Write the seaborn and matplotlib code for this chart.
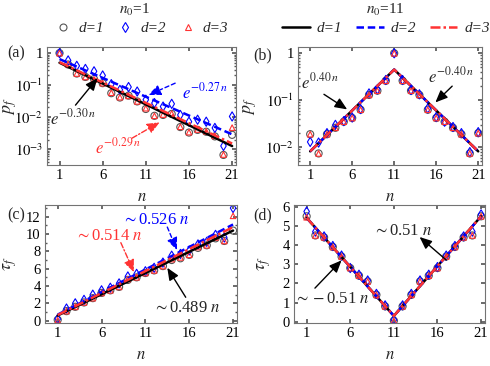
import numpy as np
import pandas as pd
import matplotlib
matplotlib.use("Agg")
import matplotlib.pyplot as plt
import seaborn as sns
from matplotlib.lines import Line2D
from matplotlib.ticker import FixedLocator, FuncFormatter, MultipleLocator, NullFormatter

n = list(range(1, 22))

# (a) n0 = 1, first-passage probability
pa_d1 = [1.0, 0.44, 0.23, 0.18, 0.155, 0.115, 0.056, 0.041, 0.047, 0.031, 0.018,
         0.011, 0.0117, 0.0126, 0.0049, 0.0033, 0.004, 0.0035, 0.0025, 0.00066, 0.0028]
pa_d2 = [1.0, 0.59, 0.40, 0.32, 0.27, 0.20, 0.107, 0.071, 0.087, 0.063, 0.035,
         0.0275, 0.0214, 0.026, 0.0117, 0.0072, 0.0083, 0.0072, 0.0046, 0.00126, 0.0105]
pa_d3 = [1.0, 0.45, 0.23, 0.18, 0.15, 0.115, 0.058, 0.042, 0.046, 0.031, 0.019,
         0.011, 0.012, 0.013, 0.005, 0.0034, 0.0041, 0.0036, 0.0026, 0.00068, 0.0047]
fit_a_n = [1, 21]
fit_a_d1 = [0.50, 0.00125]
fit_a_d2 = [0.65, 0.0029]
fit_a_d3 = [0.52, 0.0015]

# (b) n0 = 11
pb_d1 = [0.019, 0.0074, 0.019, 0.026, 0.035, 0.042, 0.063, 0.13, 0.16, 0.26, 1.0,
         0.26, 0.16, 0.13, 0.063, 0.042, 0.035, 0.026, 0.019, 0.0074, 0.02]
pb_d2 = [0.013, 0.0126, 0.02, 0.03, 0.036, 0.043, 0.065, 0.14, 0.17, 0.27, 1.0,
         0.27, 0.165, 0.134, 0.067, 0.044, 0.035, 0.027, 0.02, 0.0079, 0.021]
pb_d3 = [0.019, 0.0074, 0.019, 0.026, 0.035, 0.042, 0.063, 0.13, 0.16, 0.26, 1.0,
         0.26, 0.16, 0.13, 0.063, 0.042, 0.035, 0.026, 0.019, 0.0074, 0.02]
fit_b_n = [1, 11, 21]
fit_b = [0.0082, 0.45, 0.0082]

# (c) n0 = 1, mean first-passage time
tc_d1 = [0.1, 1.1, 1.6, 2.1, 2.6, 3.2, 3.5, 3.9, 4.7, 5.0, 5.5,
         5.8, 6.3, 7.0, 7.2, 7.6, 8.4, 8.7, 9.5, 9.2, 10.4]
tc_d2 = [0.2, 1.4, 2.0, 2.4, 3.0, 3.5, 3.8, 4.3, 5.1, 5.4, 5.7,
         6.1, 6.7, 7.5, 7.7, 8.1, 8.8, 9.1, 9.9, 9.6, 13.0]
tc_d3 = [0.05, 1.1, 1.6, 2.1, 2.6, 3.2, 3.5, 3.9, 4.8, 5.0, 5.5,
         5.8, 6.3, 7.1, 7.3, 7.6, 8.5, 8.7, 9.6, 9.2, 12.1]
fit_c_n = [1, 21]
fit_c_d1 = [0.6, 10.4]
fit_c_d2 = [0.7, 11.1]
fit_c_d3 = [0.65, 10.8]

# (d) n0 = 11
td_d1 = [5.5, 4.5, 4.4, 3.9, 3.4, 2.8, 2.4, 2.1, 1.4, 0.8, 0.05,
         0.8, 1.4, 2.1, 2.4, 2.8, 3.4, 3.9, 4.4, 4.5, 5.5]
td_d2 = [5.75, 4.7, 4.45, 3.95, 3.45, 2.8, 2.45, 2.15, 1.45, 0.85, 0.1,
         0.85, 1.45, 2.15, 2.45, 2.85, 3.45, 3.95, 4.45, 4.7, 5.6]
td_d3 = [5.45, 4.5, 4.4, 3.9, 3.4, 2.8, 2.4, 2.1, 1.4, 0.8, 0.05,
         0.8, 1.4, 2.1, 2.4, 2.8, 3.4, 3.9, 4.4, 4.5, 5.5]
fit_d_n = [1, 11, 21]
fit_d = [5.42, 0.3, 5.5]

sns.set_theme(style="ticks")
plt.rcParams.update({
    "font.family": ["Liberation Serif", "DejaVu Serif"],
    "mathtext.fontset": "stix",
    "font.size": 10.5,
    "xtick.direction": "in", "ytick.direction": "in",
    "xtick.top": True, "ytick.right": True,
    "xtick.major.size": 3, "ytick.major.size": 3,
    "xtick.minor.size": 1.5, "ytick.minor.size": 1.5,
    "xtick.color": "0.35", "ytick.color": "0.35",
    "xtick.labelcolor": "black", "ytick.labelcolor": "black",
    "axes.edgecolor": "0.45", "axes.linewidth": 0.8,
})

GRAY, BLUE, RED = "#555555", "#0000ff", "#ff3333"
W, H = 490, 366
fig = plt.figure(figsize=(4.9, 3.66), dpi=100)


def box(l, r, t, b):
    return [l / W, 1 - b / H, (r - l) / W, (b - t) / H]


ax_a = fig.add_axes(box(47, 236, 47, 165))
ax_b = fig.add_axes(box(298, 482, 47, 165))
ax_c = fig.add_axes(box(45, 237, 205, 323))
ax_d = fig.add_axes(box(294, 485, 205, 323))


def markers(ax, d1, d2, d3):
    df = pd.DataFrame({"n": n, "d1": d1, "d2": d2, "d3": d3})
    sns.scatterplot(data=df, x="n", y="d1", ax=ax, marker="o", s=26,
                    facecolors="none", edgecolor=GRAY, linewidth=0.8, zorder=2)
    sns.scatterplot(data=df, x="n", y="d2", ax=ax, marker="d", s=22,
                    facecolors="none", edgecolor=BLUE, linewidth=0.8, zorder=2)
    sns.scatterplot(data=df, x="n", y="d3", ax=ax, marker="^", s=16,
                    facecolors="none", edgecolor=RED, linewidth=0.8, zorder=2)


def fits(ax, xs, y1, y2, y3):
    sns.lineplot(x=xs, y=y1, ax=ax, color="black", lw=1.8, zorder=3)
    sns.lineplot(x=xs, y=y2, ax=ax, color=BLUE, lw=1.8, linestyle=(0, (3, 1.5)), zorder=4)
    sns.lineplot(x=xs, y=y3, ax=ax, color=RED, lw=1.8, linestyle=(0, (4, 1.2, 1, 1.2)), zorder=5)


markers(ax_a, pa_d1, pa_d2, pa_d3)
fits(ax_a, fit_a_n, fit_a_d1, fit_a_d2, fit_a_d3)
markers(ax_b, pb_d1, pb_d2, pb_d3)
fits(ax_b, fit_b_n, fit_b, fit_b, fit_b)
markers(ax_c, tc_d1, tc_d2, tc_d3)
fits(ax_c, fit_c_n, fit_c_d1, fit_c_d2, fit_c_d3)
markers(ax_d, td_d1, td_d2, td_d3)
fits(ax_d, fit_d_n, fit_d, fit_d, fit_d)


def pow_label(v, pos):
    k = int(round(np.log10(v)))
    return "1" if k == 0 else r"$10^{%d}$" % k


for ax in (ax_a, ax_b):
    ax.set_yscale("log")
    ax.yaxis.set_major_formatter(FuncFormatter(pow_label))
    ax.yaxis.set_minor_formatter(NullFormatter())
    ax.set_ylabel(r"$p_f$", fontsize=13)
ax_a.set_ylim(3.2e-4, 1.55)
ax_a.yaxis.set_major_locator(FixedLocator([1e-3, 1e-2, 1e-1, 1]))
ax_b.set_ylim(4.2e-3, 1.36)
ax_b.yaxis.set_major_locator(FixedLocator([1e-2, 1e-1, 1]))

ax_c.set_ylim(-0.27, 13.35)
ax_c.yaxis.set_major_locator(MultipleLocator(2))
ax_c.yaxis.set_minor_locator(MultipleLocator(1))
ax_d.set_ylim(-0.07, 6.09)
ax_d.yaxis.set_major_locator(MultipleLocator(1))
for ax in (ax_c, ax_d):
    ax.set_ylabel(r"$\tau_f$", fontsize=13)

ax_a.yaxis.set_label_coords(-0.15, 0.5)
ax_b.yaxis.set_label_coords(-0.21, 0.5)
ax_c.yaxis.set_label_coords(-0.135, 0.5)
ax_d.yaxis.set_label_coords(-0.11, 0.5)

for ax in (ax_a, ax_b, ax_c, ax_d):
    ax.set_xlim(-0.45, 21.45)
    ax.xaxis.set_major_locator(FixedLocator([1, 6, 11, 16, 21]))
    ax.set_xlabel(r"$n$", fontsize=12, labelpad=5)
    ax.tick_params(labelsize=10.5, pad=3)
    for s in ax.spines.values():
        s.set_zorder(6)


def arrow(ax, tail, head, color, ls="-"):
    ax.annotate("", xy=head, xytext=tail,
                arrowprops=dict(arrowstyle="-|>,head_length=0.7,head_width=0.3",
                                color=color, lw=1.0, linestyle=ls,
                                shrinkA=0, shrinkB=0), zorder=7)


FS = 12
# (a) annotations
ax_a.text(2.6, 0.0093, r"$e^{-0.30\,n}$", ha="center", va="center", fontsize=FS)
arrow(ax_a, (2.85, 0.0237), (5.4, 0.165), "black")
ax_a.text(17.9, 0.06, r"$e^{-0.27\,n}$", ha="center", va="center", fontsize=FS, color=BLUE)
arrow(ax_a, (14.4, 0.115), (11.3, 0.049), BLUE, ls=(0, (3, 2)))
ax_a.text(7.8, 0.00115, r"$e^{-0.29\,n}$", ha="center", va="center", fontsize=FS, color=RED)
arrow(ax_a, (9.4, 0.0022), (12.6, 0.0069), RED, ls=(0, (4, 1.5, 1, 1.5)))

# (b) annotations
ax_b.text(2.2, 0.24, r"$e^{0.40\,n}$", ha="center", va="center", fontsize=FS)
arrow(ax_b, (2.64, 0.134), (5.4, 0.064), "black")
ax_b.text(17.7, 0.32, r"$e^{-0.40\,n}$", ha="center", va="center", fontsize=FS)
arrow(ax_b, (17.9, 0.2), (15.9, 0.09), "black")

# (c) annotations
ax_c.text(12.2, 11.6, r"$\sim$0.526 $n$", ha="center", va="center", fontsize=FS, color=BLUE)
arrow(ax_c, (13.5, 10.8), (14.6, 8.15), BLUE, ls=(0, (3, 2)))
ax_c.text(6.8, 9.8, r"$\sim$0.514 $n$", ha="center", va="center", fontsize=FS, color=RED)
arrow(ax_c, (8.2, 9.0), (9.7, 5.6), RED, ls=(0, (4, 1.5, 1, 1.5)))
ax_c.text(15.7, 1.5, r"$\sim$0.489 $n$", ha="center", va="center", fontsize=FS)
arrow(ax_c, (15.6, 2.7), (13.5, 6.1), "black")

# (d) annotations
ax_d.text(12.0, 4.72, r"$\sim$0.51 $n$", ha="center", va="center", fontsize=FS)
arrow(ax_d, (17.0, 3.22), (13.95, 4.42), "black")
ax_d.text(3.9, 1.18, r"$\sim-$0.51 $n$", ha="center", va="center", fontsize=FS)
arrow(ax_d, (1.95, 1.75), (5.0, 3.2), "black")

# panel labels
for lab, x, y in (("(a)", 16, 53), ("(b)", 263, 55), ("(c)", 16, 215), ("(d)", 263, 215)):
    fig.text(x / W, 1 - y / H, lab, ha="center", va="center", fontsize=11.5)

# titles and legends
fig.text(135 / W, 1 - 10 / H, r"$n_0$=1", ha="center", va="center", fontsize=11)
fig.text(385 / W, 1 - 10 / H, r"$n_0$=11", ha="center", va="center", fontsize=11)
leg_font = {"family": "Liberation Serif", "style": "italic", "size": 11}
mk_handles = [
    Line2D([], [], ls="none", marker="o", ms=5, mfc="none", mec=GRAY, mew=0.8),
    Line2D([], [], ls="none", marker="d", ms=5, mfc="none", mec=BLUE, mew=0.8),
    Line2D([], [], ls="none", marker="^", ms=4, mfc="none", mec=RED, mew=0.8),
]
ln_handles = [
    Line2D([], [], color="black", lw=1.8),
    Line2D([], [], color=BLUE, lw=1.8, ls=(0, (3, 1.5))),
    Line2D([], [], color=RED, lw=1.8, ls=(0, (4, 1.2, 1, 1.2))),
]
labels = ["d=1", "d=2", "d=3"]
fig.legend(mk_handles, labels, loc="center", bbox_to_anchor=(142 / W, 1 - 28 / H),
           ncol=3, frameon=False, prop=leg_font, handlelength=1.0,
           handletextpad=0.5, columnspacing=0.9, borderpad=0, borderaxespad=0)
fig.legend(ln_handles, labels, loc="center", bbox_to_anchor=(386 / W, 1 - 28 / H),
           ncol=3, frameon=False, prop=leg_font, handlelength=1.8,
           handletextpad=0.45, columnspacing=0.9, borderpad=0, borderaxespad=0)

fig.savefig("out.png", dpi=100)
